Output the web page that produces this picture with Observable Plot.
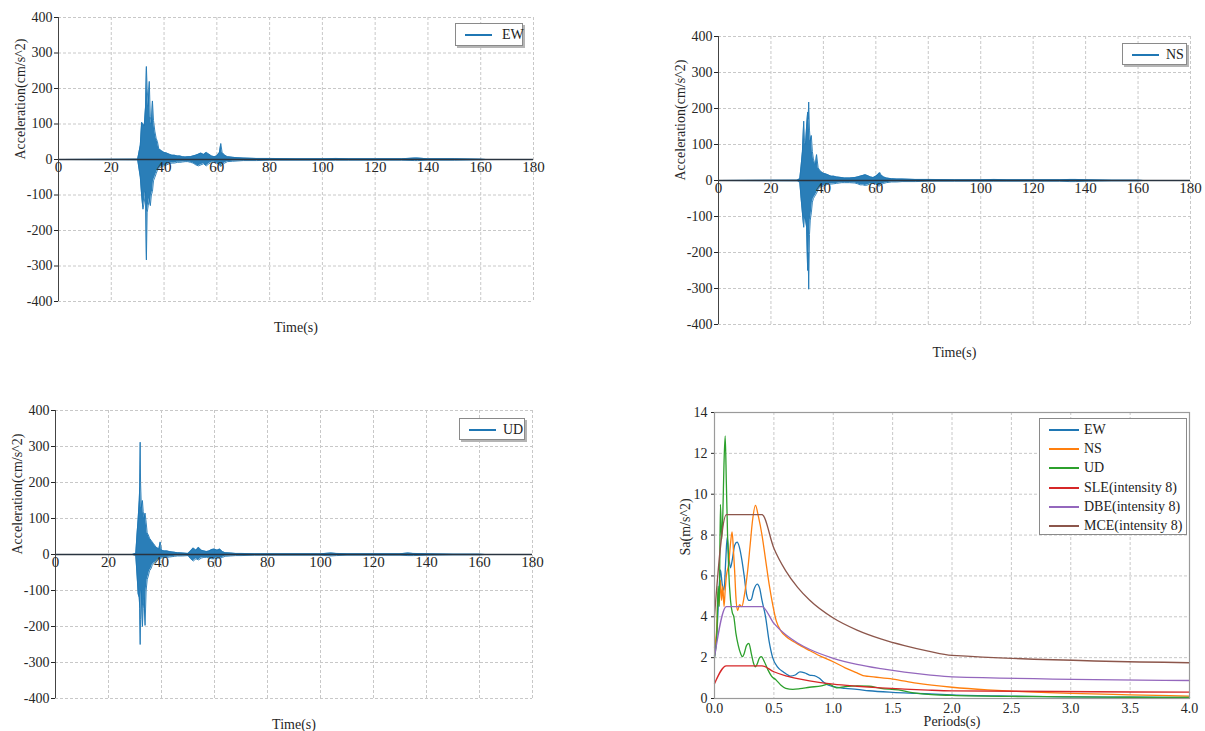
<!DOCTYPE html>
<html>
<head>
<meta charset="utf-8">
<script src="https://cdn.jsdelivr.net/npm/d3@7"></script>
<script src="https://cdn.jsdelivr.net/npm/@observablehq/plot@0.6"></script>
<style>
  html, body { margin: 0; padding: 0; background: #fff; }
  #root { position: relative; width: 1205px; height: 731px; overflow: hidden; font-family: 'Liberation Serif', 'Times New Roman', serif; }
  #root svg, #root svg text { font-family: 'Liberation Serif', 'Times New Roman', serif !important; }
  .panel { position: absolute; }
  .legend { position: absolute; background: #fff; border: 1px solid #8a8a8a; box-shadow: 2px 2px 0 #b5b5b5; font-size: 14px; color: #222; box-sizing: border-box; }
  .legend .row { position: absolute; left: 0; right: 0; height: 19px; }
  .legend .sw { position: absolute; height: 2px; }
  .legend .lb { position: absolute; white-space: nowrap; line-height: 19px; }
</style>
</head>
<body>
<div id="root"></div>
<script>
// ---------- Time histories (envelope of the acceleration record, cm/s^2) ----------
const ewTime = [0, 30, 31, 31.5, 32, 32.5, 33, 33.3, 33.6, 34, 34.4, 34.8, 35.2, 35.6, 36, 36.5, 37, 37.5, 38, 39, 40, 41, 42, 43, 44, 45, 46, 47, 48, 49, 50, 51, 52, 53, 54, 55, 56, 57, 58, 59, 60, 61, 61.5, 62, 63, 64, 66, 68, 70, 75, 80, 90, 100, 105, 110, 120, 130, 135, 136, 140, 150, 160, 162];
const ewUpper = [0, 1, 40, 105, 100, 95, 150, 262, 200, 150, 220, 120, 100, 165, 110, 80, 60, 50, 30, 25, 20, 18, 15, 12, 12, 10, 10, 8, 7, 8, 8, 10, 12, 15, 18, 14, 20, 15, 10, 8, 10, 20, 45, 20, 12, 8, 6, 5, 4, 3, 3, 2, 2, 3, 2, 2, 2, 4, 4, 2, 2, 1, 0];
const ewLower = [0, -1, -50, -100, -140, -120, -90, -283, -150, -130, -110, -130, -100, -90, -60, -50, -40, -30, -25, -20, -18, -15, -12, -10, -10, -8, -8, -7, -6, -6, -8, -10, -15, -18, -15, -12, -18, -12, -8, -8, -10, -15, -20, -15, -10, -6, -5, -4, -3, -3, -2, -2, -2, -2, -2, -2, -2, -3, -3, -2, -2, -1, 0];

const nsTime = [0, 30, 31, 31.5, 32, 32.5, 32.8, 33.2, 33.6, 34, 34.2, 34.4, 34.7, 35, 35.4, 35.8, 36.2, 36.6, 37, 37.4, 38, 38.5, 39, 40, 41, 42, 43, 44, 45, 46, 47, 48, 50, 52, 53, 54, 55, 56, 57, 58, 59, 60, 61, 61.5, 62, 63, 64, 66, 68, 70, 75, 80, 90, 100, 105, 110, 120, 130, 134, 136, 140, 150, 160, 162];
const nsUpper = [0, 1, 5, 40, 80, 165, 110, 100, 150, 190, 170, 218, 140, 110, 125, 80, 60, 50, 45, 72, 35, 30, 25, 20, 18, 15, 12, 12, 10, 9, 8, 7, 7, 8, 10, 12, 14, 16, 13, 10, 8, 12, 18, 22, 15, 10, 7, 5, 4, 4, 3, 3, 2, 2, 3, 2, 2, 2, 3, 3, 2, 1, 1, 0];
const nsLower = [0, -1, -5, -50, -90, -130, -100, -110, -130, -250, -200, -302, -150, -110, -90, -60, -50, -45, -40, -35, -25, -20, -18, -15, -12, -10, -10, -9, -8, -7, -6, -6, -6, -7, -9, -12, -12, -14, -12, -9, -8, -10, -15, -15, -12, -8, -6, -4, -4, -3, -3, -2, -2, -2, -2, -2, -2, -2, -3, -3, -2, -1, -1, 0];

const udTime = [0, 29, 30.3, 30.8, 31.2, 31.6, 31.8, 31.95, 32.1, 32.4, 32.8, 33.1, 33.4, 33.8, 34.2, 34.6, 35, 35.5, 36, 36.5, 37, 37.5, 38, 38.5, 39, 39.5, 40, 41, 42, 43, 44, 45, 46, 48, 50, 51, 52, 53, 54, 55, 56, 57, 58, 59, 60, 61, 62, 63, 64, 66, 68, 70, 75, 80, 90, 100, 104, 106, 110, 120, 130, 133, 135, 140, 150, 160, 162];
const udUpper = [0, 0, 3, 60, 100, 150, 190, 312, 200, 130, 150, 120, 100, 115, 90, 60, 55, 45, 40, 35, 30, 25, 20, 18, 15, 35, 12, 10, 10, 8, 7, 6, 5, 4, 3, 10, 18, 12, 20, 12, 10, 8, 10, 14, 15, 12, 15, 8, 5, 4, 3, 3, 2, 2, 2, 2, 4, 3, 2, 2, 2, 4, 3, 2, 1, 1, 0];
const udLower = [0, 0, -3, -60, -110, -120, -150, -250, -180, -100, -200, -150, -120, -197, -100, -70, -60, -45, -40, -30, -25, -22, -20, -15, -12, -12, -10, -8, -8, -7, -6, -5, -4, -4, -3, -12, -18, -12, -15, -10, -8, -8, -10, -12, -12, -10, -10, -8, -5, -4, -3, -3, -2, -2, -2, -2, -4, -3, -2, -2, -2, -3, -3, -2, -1, -1, 0];

const timeTicks = [0, 20, 40, 60, 80, 100, 120, 140, 160, 180];
const accTicks = [-400, -300, -200, -100, 0, 100, 200, 300, 400];

// ---------- Response spectra (m/s^2) ----------
const ewPeriod = [0, 0.02, 0.04, 0.05, 0.065, 0.08, 0.095, 0.107, 0.12, 0.135, 0.15, 0.17, 0.19, 0.21, 0.23, 0.25, 0.27, 0.29, 0.31, 0.33, 0.36, 0.38, 0.40, 0.43, 0.46, 0.49, 0.53, 0.58, 0.64, 0.68, 0.72, 0.76, 0.80, 0.84, 0.88, 0.92, 0.96, 1.0, 1.1, 1.2, 1.3, 1.5, 1.7, 2.0, 2.5, 3.0, 3.5, 4.0];
const ewSa = [2.1, 3.2, 5.5, 6.3, 5.6, 5.3, 6.8, 7.9, 7.0, 6.4, 6.8, 7.5, 7.65, 7.4, 6.8, 6.0, 5.1, 4.8, 4.85, 5.3, 5.6, 5.4, 4.8, 4.0, 2.8, 2.0, 1.55, 1.3, 1.1, 1.15, 1.3, 1.25, 1.15, 1.12, 1.0, 0.8, 0.65, 0.58, 0.5, 0.45, 0.38, 0.3, 0.25, 0.18, 0.12, 0.08, 0.06, 0.05];

const nsPeriod = [0, 0.02, 0.03, 0.04, 0.05, 0.06, 0.07, 0.08, 0.09, 0.1, 0.12, 0.135, 0.148, 0.16, 0.17, 0.18, 0.195, 0.21, 0.23, 0.25, 0.28, 0.30, 0.32, 0.345, 0.37, 0.40, 0.43, 0.46, 0.49, 0.52, 0.56, 0.60, 0.66, 0.72, 0.80, 0.90, 1.0, 1.1, 1.2, 1.25, 1.3, 1.5, 1.7, 2.0, 2.3, 2.5, 3.0, 3.5, 4.0];
const nsSa = [2.5, 3.5, 5.2, 4.6, 5.8, 4.8, 5.5, 4.5, 5.3, 6.0, 6.6, 7.6, 8.15, 7.2, 6.2, 5.0, 4.3, 4.6, 4.5, 5.0, 6.3, 7.5, 8.7, 9.45, 8.9, 8.0, 6.8, 5.6, 4.6, 3.8, 3.3, 3.05, 2.8, 2.6, 2.35, 2.05, 1.8, 1.5, 1.25, 1.12, 1.08, 0.95, 0.75, 0.55, 0.42, 0.36, 0.25, 0.18, 0.12];

const udPeriod = [0, 0.02, 0.03, 0.04, 0.05, 0.06, 0.07, 0.08, 0.09, 0.10, 0.11, 0.12, 0.135, 0.15, 0.163, 0.18, 0.2, 0.22, 0.235, 0.25, 0.27, 0.29, 0.31, 0.33, 0.345, 0.36, 0.38, 0.395, 0.42, 0.45, 0.48, 0.52, 0.56, 0.6, 0.66, 0.72, 0.8, 0.9, 0.96, 1.0, 1.03, 1.1, 1.2, 1.3, 1.4, 1.55, 1.65, 1.8, 2.0, 2.5, 3.0, 3.5, 4.0];
const udSa = [2.0, 3.2, 5.5, 4.5, 9.5, 7.8, 9.0, 11.5, 12.85, 10.5, 8.0, 6.2, 4.8, 4.2, 4.0, 3.2, 2.6, 2.2, 2.05, 2.2, 2.6, 2.7, 2.2, 1.7, 1.55, 1.7, 2.0, 2.05, 1.8, 1.4, 1.1, 0.9, 0.65, 0.5, 0.45, 0.48, 0.55, 0.62, 0.7, 0.6, 0.52, 0.58, 0.62, 0.6, 0.5, 0.42, 0.3, 0.2, 0.15, 0.1, 0.08, 0.06, 0.05];

const codePeriod = [0, 0.1, 0.4, 0.5, 0.6, 0.7, 0.8, 1.0, 1.2, 1.4, 1.6, 1.8, 2.0, 4.0];
const sleSa = [0.72, 1.6, 1.6, 1.31, 1.11, 0.97, 0.86, 0.70, 0.60, 0.52, 0.46, 0.41, 0.375, 0.31];
const dbeSa = [2.03, 4.5, 4.5, 3.68, 3.12, 2.72, 2.41, 1.97, 1.67, 1.46, 1.29, 1.16, 1.06, 0.88];
const mceSa = [4.05, 9.0, 9.0, 7.36, 6.25, 5.44, 4.82, 3.94, 3.35, 2.92, 2.59, 2.32, 2.11, 1.75];

const periodTicks = [0, 0.5, 1.0, 1.5, 2.0, 2.5, 3.0, 3.5, 4.0];
const saTicks = [0, 2, 4, 6, 8, 10, 12, 14];

const spectraNames = ["EW", "NS", "UD", "SLE(intensity 8)", "DBE(intensity 8)", "MCE(intensity 8)"];
const spectraColors = ["#1f77b4", "#ff7f0e", "#2ca02c", "#d62728", "#9467bd", "#8c564b"];

// ---------- helpers ----------
const FONT = "'Liberation Serif', 'Times New Roman', serif";
const STYLE = "font-family: 'Liberation Serif', 'Times New Roman', serif; font-size: 14px; color: #262626; background: transparent;";
const root = document.getElementById("root");

function place(el, left, top) {
  const d = document.createElement("div");
  d.className = "panel";
  d.style.left = left + "px";
  d.style.top = top + "px";
  d.appendChild(el);
  root.appendChild(d);
}

function legend(left, top, width, height, items, rowTop, rowGap, swLeft, swLen, lbLeft, shadow) {
  const box = document.createElement("div");
  box.className = "legend";
  Object.assign(box.style, {left: left + "px", top: top + "px", width: width + "px", height: height + "px"});
  if (!shadow) box.style.boxShadow = "none";
  items.forEach(([name, color], i) => {
    const row = document.createElement("div");
    row.className = "row";
    row.style.top = (rowTop + i * rowGap) + "px";
    const sw = document.createElement("div");
    sw.className = "sw";
    sw.style.left = swLeft + "px";
    sw.style.width = swLen + "px";
    sw.style.top = "9px";
    sw.style.backgroundColor = color;
    const lb = document.createElement("div");
    lb.className = "lb";
    lb.style.left = lbLeft + "px";
    lb.textContent = name;
    row.appendChild(sw); row.appendChild(lb);
    box.appendChild(row);
  });
  root.appendChild(box);
}

function timeHistory(times, upper, lower, geom) {
  const rows = times.map((t, i) => ({t, up: upper[i], lo: lower[i]}));
  return Plot.plot({
    width: geom.width, height: geom.height,
    marginLeft: geom.ml, marginRight: geom.mr, marginTop: geom.mt, marginBottom: geom.mb,
    style: STYLE,
    x: {domain: [0, 180], axis: null},
    y: {domain: [-400, 400], ticks: accTicks, tickSize: 4, tickPadding: 2, label: null, tickFormat: d => String(d)},
    marks: [
      Plot.ruleX(timeTicks, {stroke: "#c8c8c8", strokeDasharray: "3,2"}),
      Plot.ruleY(accTicks, {stroke: "#c8c8c8", strokeDasharray: "3,2"}),
      Plot.areaY(rows, {x: "t", y1: "lo", y2: "up", fill: "#1f77b4", fillOpacity: 0.95}),
      Plot.line(rows, {x: "t", y: "up", stroke: "#1f77b4", strokeWidth: 0.9}),
      Plot.line(rows, {x: "t", y: "lo", stroke: "#1f77b4", strokeWidth: 0.9}),
      Plot.ruleY([0], {stroke: "#2a3440", strokeWidth: 1.4}),
      Plot.ruleX([0], {stroke: "#444", strokeWidth: 1}),
      Plot.text(timeTicks, {x: d => d, y: () => 0, text: d => String(d), lineAnchor: "top", dy: 2, fill: "#262626", fontSize: 15, fontFamily: FONT}),
      Plot.text(["Time(s)"], {frameAnchor: "bottom", dy: geom.xLabelDy, lineAnchor: "middle", fontSize: 14, fill: "#262626", fontFamily: FONT}),
      Plot.text(["Acceleration(cm/s^2)"], {frameAnchor: "left", dx: geom.yLabelDx, rotate: -90, fontSize: 14, fill: "#262626", fontFamily: FONT})
    ]
  });
}

// ---------- panels ----------
place(timeHistory(ewTime, ewUpper, ewLower,
  {width: 560, height: 340, ml: 58, mr: 27, mt: 17, mb: 39, xLabelDy: 26, yLabelDx: -38}), 0, 0);
legend(455, 23, 68, 23, [["EW", "#1f77b4"]], 1, 19, 9, 27, 46, true);

place(timeHistory(nsTime, nsUpper, nsLower,
  {width: 565, height: 370, ml: 78, mr: 15, mt: 36, mb: 46, xLabelDy: 28, yLabelDx: -38}), 640, 0);
legend(1122, 43, 65, 22, [["NS", "#1f77b4"]], 1, 19, 9, 27, 43, true);

place(timeHistory(udTime, udUpper, udLower,
  {width: 560, height: 351, ml: 55, mr: 28, mt: 30, mb: 33, xLabelDy: 26, yLabelDx: -38}), 0, 380);
legend(459, 418, 66, 22, [["UD", "#1f77b4"]], 1, 19, 9, 27, 43, true);

const spectraSeries = [
  [ewPeriod, ewSa], [nsPeriod, nsSa], [udPeriod, udSa],
  [codePeriod, sleSa], [codePeriod, dbeSa], [codePeriod, mceSa]
];
const spectraRows = [];
spectraSeries.forEach(([ps, vs], k) => ps.forEach((p, i) => spectraRows.push({name: spectraNames[k], T: p, Sa: vs[i]})));

const spectra = Plot.plot({
  width: 565, height: 351,
  marginLeft: 74, marginRight: 16, marginTop: 32, marginBottom: 33,
  style: STYLE,
  x: {domain: [0, 4], ticks: periodTicks, tickFormat: d3.format(".1f"), tickSize: 0, tickPadding: 5, label: null},
  y: {domain: [0, 14], ticks: saTicks, tickSize: 3, tickPadding: 4, label: null},
  color: {domain: spectraNames, range: spectraColors},
  marks: [
    Plot.ruleX(periodTicks, {stroke: "#c8c8c8", strokeDasharray: "3,2"}),
    Plot.ruleY(saTicks, {stroke: "#c8c8c8", strokeDasharray: "3,2"}),
    Plot.line(spectraRows, {x: "T", y: "Sa", z: "name", stroke: "name", strokeWidth: 1.3, curve: "monotone-x"}),
    Plot.frame({stroke: "#9a9a9a", strokeWidth: 1.2}),
    Plot.text(["Periods(s)"], {frameAnchor: "bottom", dy: 23, lineAnchor: "middle", fontSize: 14, fill: "#262626", fontFamily: FONT}),
    Plot.text(["Sa(m/s^2)"], {frameAnchor: "left", dx: -29, rotate: -90, fontSize: 14, fill: "#262626", fontFamily: FONT})
  ]
});
place(spectra, 640, 380);
legend(1039, 418, 148, 117, spectraNames.map((n, i) => [n, spectraColors[i]]), 1, 19.2, 9, 30, 44, false);
</script>
</body>
</html>
